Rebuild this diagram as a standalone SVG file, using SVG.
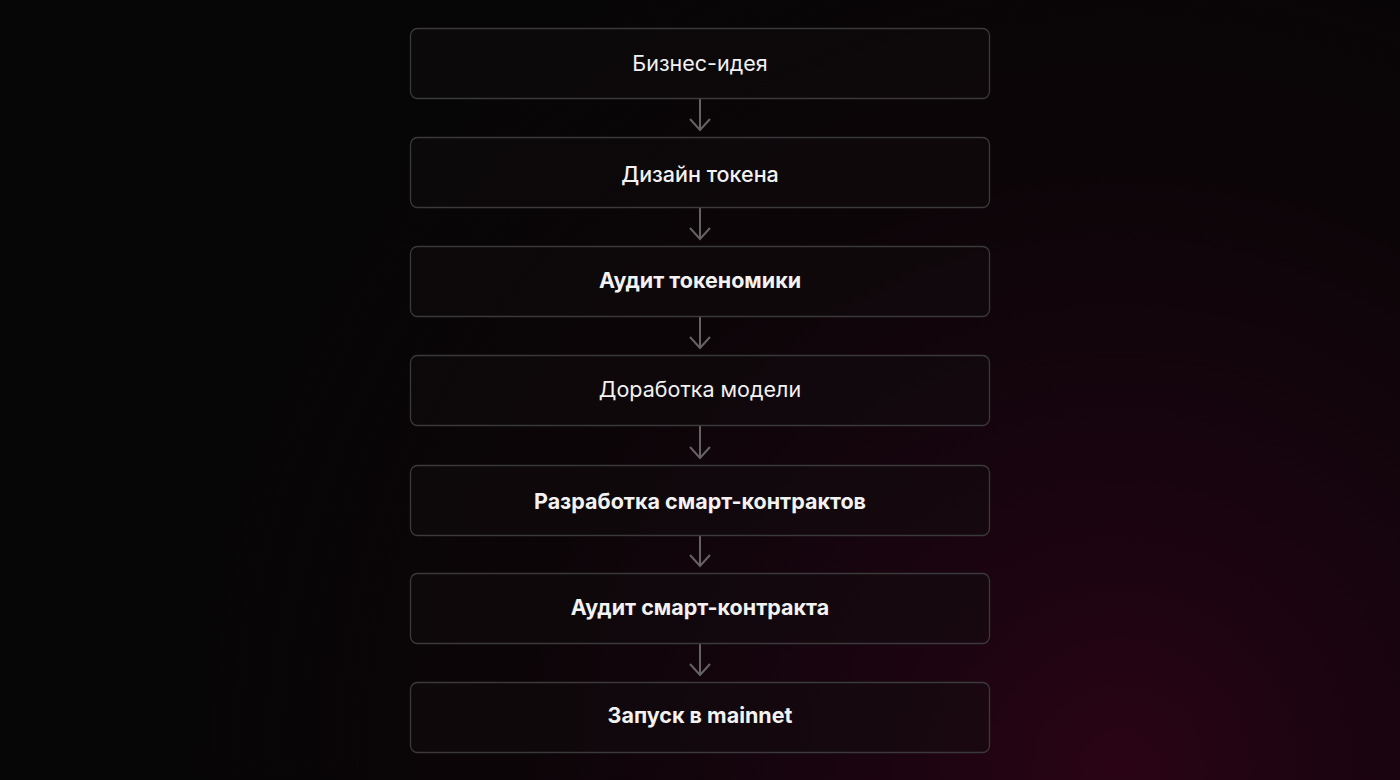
<svg xmlns="http://www.w3.org/2000/svg" width="1400" height="780" viewBox="0 0 1400 780">
<defs>
<radialGradient id="bg" cx="1120" cy="770" r="1000" gradientUnits="userSpaceOnUse">
<stop offset="0" stop-color="#2a0415"/>
<stop offset="0.25" stop-color="#1a0410"/>
<stop offset="0.6" stop-color="#0c0508"/>
<stop offset="1" stop-color="#060606"/>
</radialGradient>
<marker id="ah" viewBox="0 0 14 22" markerWidth="14" markerHeight="22" refX="12" refY="11" orient="auto" markerUnits="userSpaceOnUse">
<path d="M1,1 L12,11 L1,21" fill="none" stroke="#666264" stroke-width="2"/>
</marker>
</defs>
<style>
.box{fill:#110d10;fill-opacity:0.45;stroke:#3b393b;stroke-width:1.3}
.t{font-family:Inter,"Noto Sans","DejaVu Sans",sans-serif;font-size:21.5px;fill:#f2f2f2;text-anchor:middle;dominant-baseline:central}
.r{font-weight:400}
.m{font-weight:500}
.b{font-weight:700}
.c{stroke:#666264;stroke-width:2;fill:none}
</style>
<rect width="1400" height="780" fill="url(#bg)"/>
<g id="connectors">
<line class="c" x1="700" y1="99" x2="700" y2="130" marker-end="url(#ah)"/>
<line class="c" x1="700" y1="208" x2="700" y2="239" marker-end="url(#ah)"/>
<line class="c" x1="700" y1="317" x2="700" y2="348" marker-end="url(#ah)"/>
<line class="c" x1="700" y1="426" x2="700" y2="458" marker-end="url(#ah)"/>
<line class="c" x1="700" y1="536" x2="700" y2="566" marker-end="url(#ah)"/>
<line class="c" x1="700" y1="644" x2="700" y2="675" marker-end="url(#ah)"/>
</g>
<g id="n1"><rect class="box" x="410.5" y="28.5" width="579" height="70" rx="7"/><text class="t r" x="700" y="63">Бизнес-идея</text></g>
<g id="n2"><rect class="box" x="410.5" y="137.5" width="579" height="70" rx="7"/><text class="t m" x="700" y="174">Дизайн токена</text></g>
<g id="n3"><rect class="box" x="410.5" y="246.5" width="579" height="70" rx="7"/><text class="t b" x="700" y="280">Аудит токеномики</text></g>
<g id="n4"><rect class="box" x="410.5" y="355.5" width="579" height="70" rx="7"/><text class="t r" x="700" y="389">Доработка модели</text></g>
<g id="n5"><rect class="box" x="410.5" y="465.5" width="579" height="70" rx="7"/><text class="t b" x="700" y="501">Разработка смарт-контрактов</text></g>
<g id="n6"><rect class="box" x="410.5" y="573.5" width="579" height="70" rx="7"/><text class="t b" x="700" y="607">Аудит смарт-контракта</text></g>
<g id="n7"><rect class="box" x="410.5" y="682.5" width="579" height="70" rx="7"/><text class="t b" x="700" y="715">Запуск в mainnet</text></g>
</svg>
